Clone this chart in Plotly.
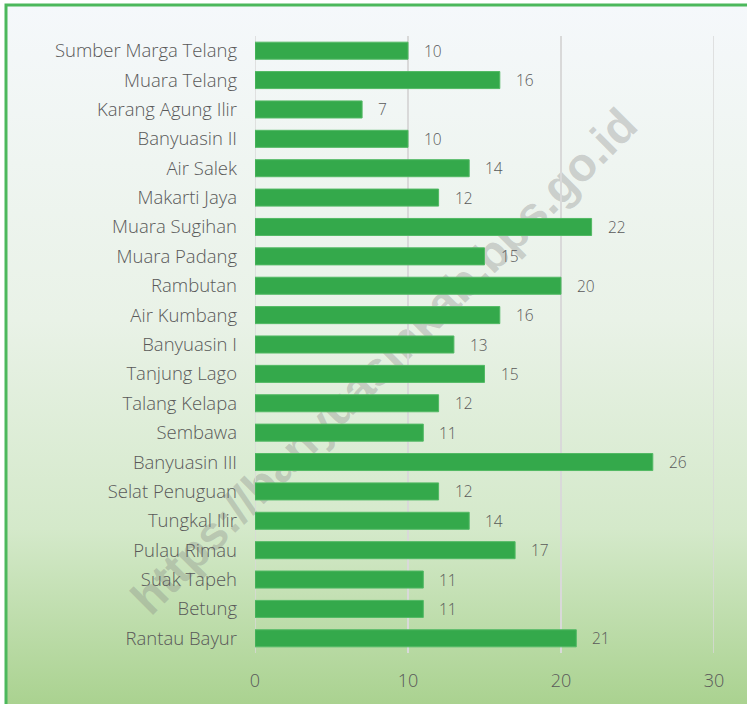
import base64
import plotly.graph_objects as go

categories = ["Sumber Marga Telang", "Muara Telang", "Karang Agung Ilir", "Banyuasin II",
              "Air Salek", "Makarti Jaya", "Muara Sugihan", "Muara Padang", "Rambutan",
              "Air Kumbang", "Banyuasin I", "Tanjung Lago", "Talang Kelapa", "Sembawa",
              "Banyuasin III", "Selat Penuguan", "Tungkal Ilir", "Pulau Rimau", "Suak Tapeh",
              "Betung", "Rantau Bayur"]
values = [10, 16, 7, 10, 14, 12, 22, 15, 20, 16, 13, 15, 12, 11, 26, 12, 14, 17, 11, 11, 21]
x_ticks = [0, 10, 20, 30]
watermark = "https://banyuasinkab.bps.go.id"

W, H = 747, 704
L, R, T, B = 255, 33, 36, 51
pw, ph = W - L - R, H - T - B

def px_x(p):
    return (p - L) / pw

def px_y(p):
    return 1 - (p - T) / ph

svg = """<svg xmlns='http://www.w3.org/2000/svg' width='100' height='100' preserveAspectRatio='none'>
<defs><linearGradient id='g' x1='0' y1='0' x2='0' y2='1'>
<stop offset='0' stop-color='#f5f8fb'/>
<stop offset='0.45' stop-color='#e9f2e7'/>
<stop offset='0.75' stop-color='#d4e9ca'/>
<stop offset='1' stop-color='#aad290'/>
</linearGradient></defs>
<rect x='0' y='0' width='100' height='100' fill='url(#g)'/></svg>"""
src = "data:image/svg+xml;base64," + base64.b64encode(svg.encode()).decode()

font_family = "Open Sans"

fig = go.Figure()
fig.add_trace(go.Bar(
    x=values, y=categories, orientation="h",
    marker=dict(color="#34a94b", line=dict(color="#52b964", width=1)),
    hoverinfo="x+y",
))

for c, v in zip(categories, values):
    fig.add_annotation(x=v, y=c, xref="x", yref="y", text=str(v), showarrow=False,
                       xanchor="left", xshift=14,
                       font=dict(family=font_family, size=15.5, color="#595959", weight=300))

# watermark drawn as a shape label, below the bars
fig.add_shape(type="rect", xref="paper", yref="paper", layer="below",
              x0=px_x(181), x1=px_x(581), y0=px_y(558), y1=px_y(158),
              line=dict(width=0), fillcolor="rgba(0,0,0,0)",
              label=dict(text=watermark, textangle=-45, textposition="middle center",
                         font=dict(family="Liberation Sans", size=47,
                                   color="rgba(128,128,128,0.33)", weight="bold")))

# grid lines at the range edges
for xv in (x_ticks[0], x_ticks[-1]):
    fig.add_shape(type="line", xref="x", yref="paper", x0=xv, x1=xv, y0=0, y1=1,
                  line=dict(color="#d9d9d9", width=1.5), layer="below")

fig.add_layout_image(dict(source=src, xref="paper", yref="paper",
                          x=px_x(6), y=px_y(5), sizex=px_x(W) - px_x(6), sizey=px_y(5) - px_y(H),
                          xanchor="left", yanchor="top", sizing="stretch", layer="below"))

fig.add_shape(type="rect", xref="paper", yref="paper",
              x0=px_x(6), x1=px_x(W + 10), y0=px_y(5), y1=px_y(H + 10),
              line=dict(color="#4cb85c", width=3), fillcolor="rgba(0,0,0,0)", layer="above")

fig.update_layout(
    width=W, height=H,
    margin=dict(l=L, r=R, t=T, b=B),
    paper_bgcolor="white",
    plot_bgcolor="rgba(0,0,0,0)",
    bargap=0.42,
    showlegend=False,
    font=dict(family=font_family, color="#595959"),
    xaxis=dict(range=[0, 30], tickvals=x_ticks, showgrid=True, gridcolor="#d9d9d9",
               gridwidth=1.5, zeroline=False, showline=False, ticks="",
               tickfont=dict(family=font_family, size=18, color="#595959", weight=300),
               ticklabelstandoff=15),
    yaxis=dict(categoryorder="array", categoryarray=categories, autorange="reversed",
               showgrid=False, zeroline=False, showline=False, ticks="",
               tickfont=dict(family=font_family, size=18.5, color="#595959", weight=300),
               ticklabelstandoff=17),
)

fig.write_html("out.html", config={"displayModeBar": False},
               post_script="document.body.style.margin='0';")
